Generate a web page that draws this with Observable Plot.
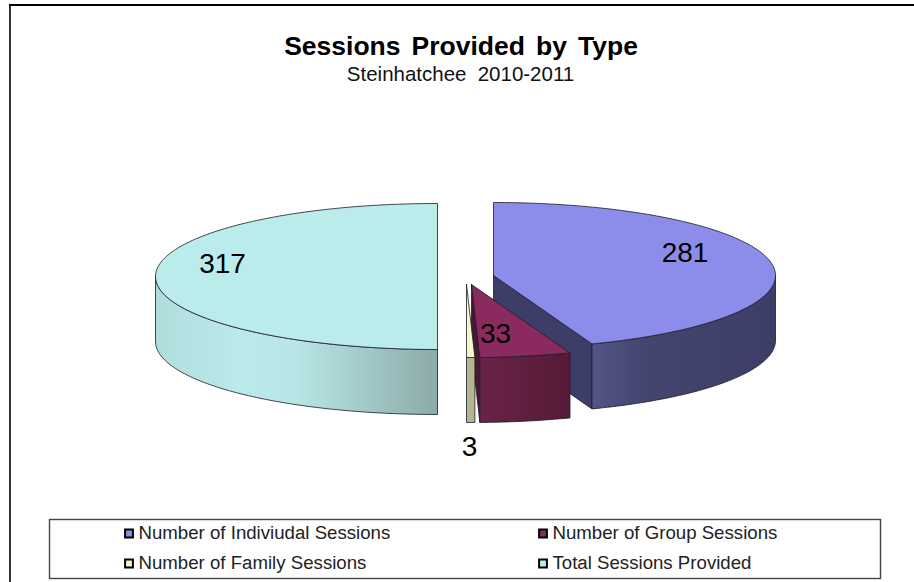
<!DOCTYPE html>
<html>
<head>
<meta charset="utf-8">
<script src="https://cdn.jsdelivr.net/npm/d3@7"></script>
<script src="https://cdn.jsdelivr.net/npm/@observablehq/plot@0.6"></script>
<style>
html,body{margin:0;padding:0;background:#fff}
svg{display:block}
svg text.ttl, .ttl text{word-spacing:3.7px}
svg text.sub, .sub text{word-spacing:5.5px}
</style>
</head>
<body>
<div id="chart"></div>
<script>
// Data
const categories = ["Number of Indiviudal Sessions", "Number of Group Sessions", "Number of Family Sessions", "Total Sessions Provided"];
const values = [281, 33, 3, 317];
const titleText = "Sessions Provided by Type";
const subtitleText = "Steinhatchee 2010-2011";

// Styles & layout (not data)
const topColors = ["#8c8ceb", "#8b2a5f", "#f6f6c6", "#bbecec"];
const centers = [[493, 275], [471, 284], [466, 284], [437, 276]];
const labelAt = [[684.5, 253], [495, 334], [469, 447], [222, 264]];
const legendAt = [[124, 533], [538, 533], [124, 563], [538, 563]];
const RX = 282, RY = 73, DEPTH = 65;
const outline = "#1c1c2c";

// Angles from the values (clockwise from twelve o'clock)
const total = d3.sum(values);
let acc = 0;
const slices = values.map((v, i) => {
  const a0 = acc / total * 2 * Math.PI;
  acc += v;
  return {i, a0, a1: acc / total * 2 * Math.PI, cx: centers[i][0], cy: centers[i][1]};
});
const pt = (s, a, dz = 0) => ({x: s.cx + RX * Math.sin(a), y: s.cy - RY * Math.cos(a) + dz});
const arc = (s, a0, a1, dz = 0) => {
  const n = Math.max(2, Math.ceil(Math.abs(a1 - a0) / 0.02));
  return d3.range(n + 1).map(k => pt(s, a0 + (a1 - a0) * k / n, dz));
};
const close = p => [...p, p[0]];
const topFace = s => close([{x: s.cx, y: s.cy}, ...arc(s, s.a0, s.a1)]);
const sideFace = (s, a0, a1) => close([...arc(s, a0, a1), ...arc(s, a1, a0, DEPTH)]);
const cutFace = (s, a) => {
  const e = pt(s, a), f = pt(s, a, DEPTH);
  return close([{x: s.cx, y: s.cy}, e, f, {x: s.cx, y: s.cy + DEPTH}]);
};
const poly = (p, fill) => Plot.line(p, {x: "x", y: "y", fill, stroke: outline, strokeWidth: 0.9, strokeOpacity: 0.9, curve: "linear"});

function defs() {
  const d = d3.create("svg:defs");
  const grads = {
    gradBlue: [[0, "#525586"], [0.3, "#43456f"], [1, "#3c3e68"]],
    gradMaroon: [[0, "#6a2348"], [1, "#551a37"]],
    gradTeal: [[0, "#b0dcdc"], [0.3, "#bbeaea"], [0.5, "#b8e6e6"], [1, "#8caaa9"]]
  };
  for (const [id, stops] of Object.entries(grads)) {
    const g = d.append("linearGradient").attr("id", id).attr("x1", 0).attr("x2", 1).attr("y1", 0).attr("y2", 0);
    for (const [o, c] of stops) g.append("stop").attr("offset", o).attr("stop-color", c);
  }
  return d.node();
}

const [blue, maroon, family, teal] = slices;
const H = Math.PI / 2;

const legendRows = categories.map((c, i) => ({label: c, x: legendAt[i][0], y: legendAt[i][1], color: topColors[i]}));
const labelRows = values.map((v, i) => ({label: String(v), x: labelAt[i][0], y: labelAt[i][1]}));

const font = "'Liberation Sans', Arial, sans-serif";
const chart = Plot.plot({
  width: 914, height: 582, margin: 0,
  style: {background: "#fff", fontFamily: font},
  x: {domain: [0, 914], range: [0, 914], axis: null},
  y: {domain: [0, 582], range: [0, 582], axis: null},
  marks: [
    defs,
    // outer frame
    Plot.ruleY([4.5], {x1: 9, x2: 914, stroke: "#000", strokeWidth: 1.8}),
    Plot.ruleX([9.5], {y1: 4, y2: 582, stroke: "#000", strokeWidth: 1.6}),
    // title
    Plot.text([titleText], {x: 460.5, y: 46.5, text: d => d, fontSize: 26.5, fontWeight: "bold", fill: "#000", textAnchor: "middle", lineAnchor: "middle", className: "ttl"}),
    Plot.text([subtitleText], {x: 460, y: 74, text: d => d, fontSize: 20.5, fill: "#111", textAnchor: "middle", lineAnchor: "middle", className: "sub"}),
    // total slice
    poly(sideFace(teal, Math.PI, 3 * H), "url(#gradTeal)"),
    poly(topFace(teal), topColors[3]),
    // individual slice
    poly(cutFace(blue, blue.a1), "#3c3e68"),
    poly(sideFace(blue, H, blue.a1), "url(#gradBlue)"),
    poly(topFace(blue), topColors[0]),
    // group slice
    poly(cutFace(maroon, maroon.a1), "#4a1733"),
    poly(sideFace(maroon, maroon.a0, maroon.a1), "url(#gradMaroon)"),
    poly(topFace(maroon), topColors[1]),
    // family slice
    poly(sideFace(family, family.a0, family.a1), "#b5b58e"),
    poly(topFace(family), topColors[2]),
    // value labels
    Plot.text(labelRows, {x: "x", y: "y", text: "label", fontSize: 28, fill: "#000", textAnchor: "middle", lineAnchor: "middle"}),
    // legend
    Plot.rect([0], {x1: 49.5, x2: 880.5, y1: 519.5, y2: 578.5, fill: "#fff", stroke: "#444", strokeWidth: 1.4}),
    Plot.dot(legendRows, {x: d => d.x + 4.5, y: "y", symbol: "square", r: 4.4, fill: "color", stroke: "#000", strokeWidth: 2}),
    Plot.text(legendRows, {x: d => d.x + 14, y: "y", text: "label", fontSize: 18.65, fill: "#222", textAnchor: "start", lineAnchor: "middle"})
  ]
});
document.getElementById("chart").appendChild(chart);
</script>
</body>
</html>
